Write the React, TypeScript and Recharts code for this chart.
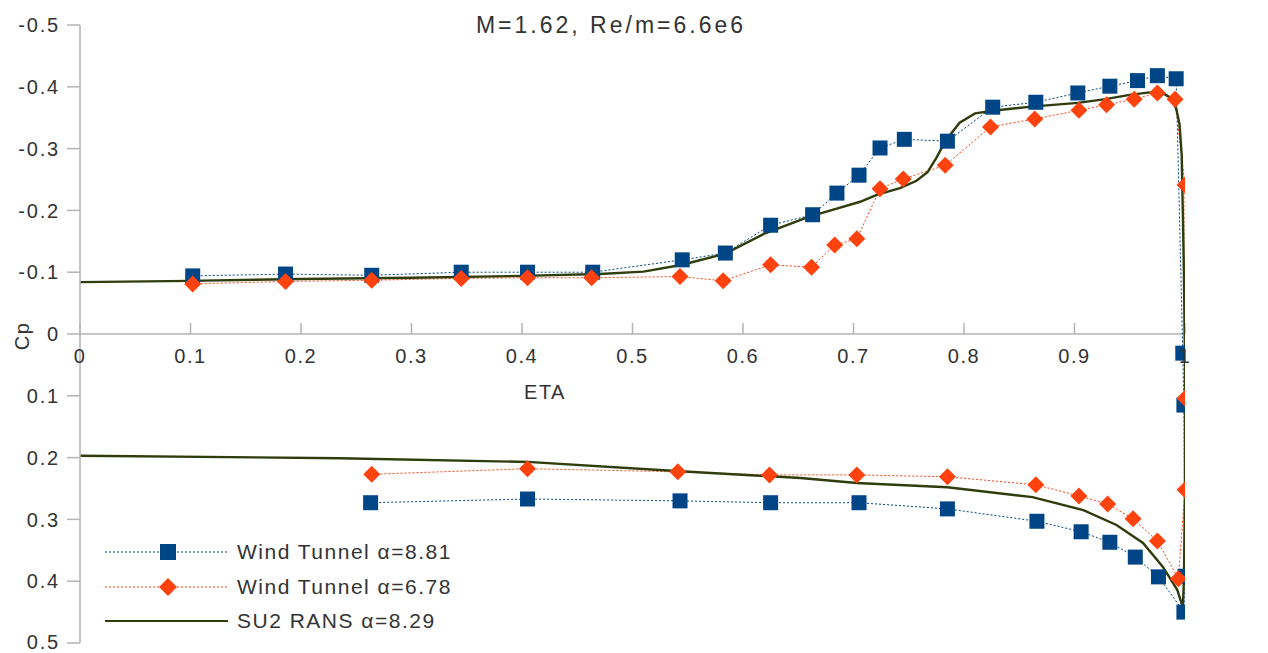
import React from 'react';
import { LineChart, Line, XAxis, YAxis, ReferenceLine, ReferenceDot } from 'recharts';

// Spanwise station (ETA) ticks along the Cp = 0 axis
const etaTicks = [0, 0.1, 0.2, 0.3, 0.4, 0.5, 0.6, 0.7, 0.8, 0.9, 1];
const etaTickLabels = ['0', '0.1', '0.2', '0.3', '0.4', '0.5', '0.6', '0.7', '0.8', '0.9', '1'];

// Pressure coefficient ticks (axis reversed: suction side up)
const cpTicks = [-0.5, -0.4, -0.3, -0.2, -0.1, 0, 0.1, 0.2, 0.3, 0.4, 0.5];
const cpTickLabels = ['-0.5', '-0.4', '-0.3', '-0.2', '-0.1', '0', '0.1', '0.2', '0.3', '0.4', '0.5'];

// Wind tunnel, alpha = 8.81 (upper surface, around the tip, lower surface)
const wt881Eta = [0.102, 0.186, 0.264, 0.345, 0.405, 0.464, 0.545, 0.584, 0.625, 0.663, 0.685, 0.705, 0.724, 0.746, 0.785, 0.826, 0.865, 0.903, 0.932, 0.957, 0.975, 0.992, 0.998, 0.999, 1.0, 0.999, 0.976, 0.955, 0.932, 0.906, 0.866, 0.785, 0.705, 0.625, 0.543, 0.405, 0.263];
const wt881Cp = [-0.094, -0.097, -0.095, -0.1, -0.1, -0.1, -0.12, -0.131, -0.176, -0.193, -0.228, -0.257, -0.301, -0.315, -0.312, -0.367, -0.375, -0.39, -0.401, -0.41, -0.418, -0.413, 0.031, 0.115, 0.392, 0.45, 0.393, 0.361, 0.337, 0.32, 0.303, 0.283, 0.273, 0.273, 0.27, 0.267, 0.273];

// Wind tunnel, alpha = 6.78
const wt678Eta = [0.102, 0.186, 0.264, 0.345, 0.405, 0.463, 0.543, 0.582, 0.625, 0.662, 0.683, 0.703, 0.724, 0.745, 0.783, 0.824, 0.864, 0.904, 0.929, 0.954, 0.975, 0.991, 1.0, 1.0, 1.0, 0.994, 0.975, 0.953, 0.93, 0.904, 0.865, 0.785, 0.703, 0.624, 0.541, 0.405, 0.264];
const wt678Cp = [-0.081, -0.085, -0.087, -0.09, -0.091, -0.091, -0.093, -0.086, -0.112, -0.108, -0.144, -0.154, -0.235, -0.251, -0.273, -0.335, -0.348, -0.362, -0.371, -0.38, -0.39, -0.38, -0.241, 0.104, 0.252, 0.396, 0.335, 0.299, 0.275, 0.262, 0.244, 0.231, 0.228, 0.228, 0.223, 0.218, 0.227];

// SU2 RANS, alpha = 8.29
const su2Eta = [0, 0.1, 0.2, 0.3, 0.4, 0.47, 0.51, 0.545, 0.584, 0.62, 0.66, 0.681, 0.706, 0.721, 0.742, 0.757, 0.767, 0.775, 0.783, 0.796, 0.81, 0.83, 0.861, 0.903, 0.928, 0.95, 0.968, 0.98, 0.987, 0.992, 0.995, 0.997, 0.998, 0.999, 1.0, 1.0, 0.999, 0.998, 0.993, 0.98, 0.962, 0.938, 0.908, 0.862, 0.785, 0.703, 0.652, 0.543, 0.405, 0.235, 0];
const su2Cp = [-0.084, -0.086, -0.089, -0.091, -0.094, -0.097, -0.101, -0.112, -0.13, -0.163, -0.19, -0.201, -0.214, -0.225, -0.236, -0.248, -0.262, -0.285, -0.312, -0.342, -0.357, -0.362, -0.368, -0.374, -0.38, -0.387, -0.391, -0.39, -0.382, -0.365, -0.34, -0.29, -0.2, -0.1, 0.05, 0.25, 0.4, 0.442, 0.414, 0.377, 0.338, 0.309, 0.285, 0.264, 0.248, 0.241, 0.233, 0.222, 0.207, 0.201, 0.197];

const toRows = (eta: number[], cp: number[]) => eta.map((x, i) => ({ eta: x, cp: cp[i] }));
const wt881 = toRows(wt881Eta, wt881Cp);
const wt678 = toRows(wt678Eta, wt678Cp);
const su2 = toRows(su2Eta, su2Cp);

const BLUE = '#004586';
const ORANGE = '#ff420e';
const OLIVE = '#2f3c0c';
const AXIS = '#b3b3b3';
const TEXT = '#333333';
const FONT = '"Liberation Sans", Arial, sans-serif';

const SquareDot = (props: any) => {
  const { cx, cy, index } = props;
  if (cx == null || cy == null) return <g key={`s${index}`} />;
  return <rect key={`s${index}`} x={cx - 7.5} y={cy - 7.5} width={15} height={15} fill={BLUE} />;
};

const DiamondDot = (props: any) => {
  const { cx, cy, index } = props;
  if (cx == null || cy == null) return <g key={`d${index}`} />;
  return (
    <polygon
      key={`d${index}`}
      points={`${cx},${cy - 8.5} ${cx + 8.5},${cy} ${cx},${cy + 8.5} ${cx - 8.5},${cy}`}
      fill={ORANGE}
    />
  );
};

const legendItems = [
  { name: 'Wind Tunnel α=8.81', color: BLUE, kind: 'square' },
  { name: 'Wind Tunnel α=6.78', color: ORANGE, kind: 'diamond' },
  { name: 'SU2 RANS α=8.29', color: OLIVE, kind: 'line' },
];

const LegendBox = () => (
  <div style={{ position: 'absolute', left: 97, top: 527, fontFamily: FONT }}>
    {legendItems.map((it) => (
      <div key={it.name} style={{ display: 'flex', alignItems: 'center', height: 34.5 }}>
        <svg width={124} height={20} style={{ display: 'block' }}>
          {it.kind === 'line' ? (
            <line x1={0} y1={10} x2={123} y2={10} stroke={it.color} strokeWidth={2.2} />
          ) : (
            <line x1={0} y1={10} x2={123} y2={10} stroke={it.color} strokeWidth={1} strokeDasharray="2 2" />
          )}
          {it.kind === 'square' && <rect x={55} y={2} width={16} height={16} fill={it.color} />}
          {it.kind === 'diamond' && <polygon points="63,1 72,10 63,19 54,10" fill={it.color} />}
        </svg>
        <span style={{ marginLeft: 8, fontSize: 21, letterSpacing: 1.5, color: TEXT, whiteSpace: 'nowrap' }}>
          {it.name}
        </span>
      </div>
    ))}
  </div>
);

export default function App() {
  return (
    <div style={{ position: 'relative', width: 1252, height: 645, fontFamily: FONT, background: '#fff' }}>
      <LineChart
        width={1252}
        height={645}
        margin={{ top: 17, right: 75, bottom: 10, left: 0 }}
        style={{ fontFamily: FONT }}
      >
        <XAxis
          dataKey="eta"
          type="number"
          domain={[0, 1]}
          allowDataOverflow
          hide
        />
        <YAxis
          type="number"
          domain={[-0.5, 0.5]}
          reversed
          ticks={cpTicks}
          tickFormatter={(v: number) => cpTickLabels[cpTicks.indexOf(v)] ?? String(v)}
          width={72}
          tickSize={13}
          tickMargin={7}
          axisLine={{ stroke: AXIS, strokeWidth: 1.5 }}
          tickLine={{ stroke: AXIS, strokeWidth: 1.5 }}
          tick={{ fill: TEXT, fontSize: 20, letterSpacing: 1.8 }}
          allowDataOverflow
        />
        {/* ETA axis drawn along Cp = 0 */}
        <ReferenceLine y={0} stroke={AXIS} strokeWidth={1.5} />
        {etaTicks.map((t) => (
          <ReferenceLine
            key={`tk${t}`}
            segment={[{ x: t, y: 0 }, { x: t, y: -0.018 }]}
            stroke={AXIS}
            strokeWidth={1.5}
          />
        ))}
        {etaTicks.map((t, i) => (
          <ReferenceDot
            key={`lb${t}`}
            x={t}
            y={0}
            r={0}
            fill="none"
            stroke="none"
            ifOverflow="visible"
            label={{ value: etaTickLabels[i], position: 'bottom', offset: 15, fill: TEXT, fontSize: 20, letterSpacing: 1.5 }}
          />
        ))}
        <Line
          data={wt881}
          dataKey="cp"
          name="Wind Tunnel α=8.81"
          type="linear"
          stroke={BLUE}
          strokeWidth={1}
          strokeDasharray="2 2"
          dot={SquareDot}
          activeDot={false}
          isAnimationActive={false}
        />
        <Line
          data={wt678}
          dataKey="cp"
          name="Wind Tunnel α=6.78"
          type="linear"
          stroke={ORANGE}
          strokeWidth={1}
          strokeDasharray="2 2"
          dot={DiamondDot}
          activeDot={false}
          isAnimationActive={false}
        />
        <Line
          data={su2}
          dataKey="cp"
          name="SU2 RANS α=8.29"
          type="linear"
          stroke={OLIVE}
          strokeWidth={2.4}
          dot={false}
          activeDot={false}
          isAnimationActive={false}
        />
      </LineChart>

      <div
        style={{
          position: 'absolute', left: 603, top: 17, transform: 'translate(-50%, -50%)',
          fontSize: 23, letterSpacing: 3, color: TEXT, whiteSpace: 'nowrap',
        }}
      >
        M=1.62, Re/m=6.6e6
      </div>
      <div
        style={{
          position: 'absolute', left: 537, top: 384, transform: 'translate(-50%, -50%)',
          fontSize: 20, letterSpacing: 1.5, color: TEXT, whiteSpace: 'nowrap',
        }}
      >
        ETA
      </div>
      <div
        style={{
          position: 'absolute', left: 14, top: 328, transform: 'translate(-50%, -50%) rotate(-90deg)',
          fontSize: 20, letterSpacing: 1.5, color: TEXT, whiteSpace: 'nowrap',
        }}
      >
        Cp
      </div>
      <LegendBox />
    </div>
  );
}
